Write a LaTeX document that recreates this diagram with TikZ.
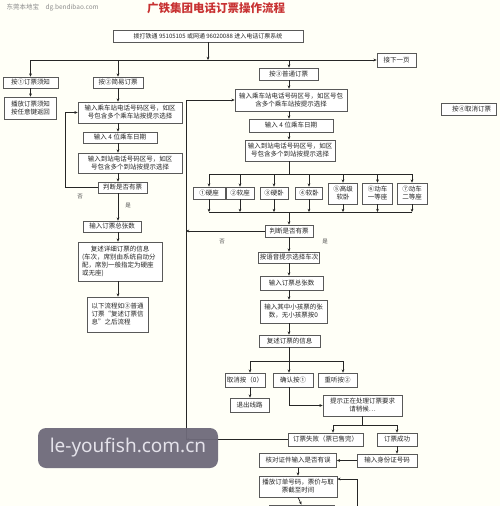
\documentclass[tikz,border=0pt]{standalone}
\usepackage{fontspec}
\newfontfamily\cjk{Noto Sans CJK SC}
\newfontfamily\wmfont{Noto Sans}
\usetikzlibrary{arrows.meta}
\begin{document}
\begin{tikzpicture}[x=1pt,y=-1pt,
 bx/.style={draw=black!65, fill=white, line width=0.7pt, inner sep=1pt, align=center,
   font=\cjk\fontsize{6.5}{8}\selectfont, text=black!85},
 sz/.style 2 args={minimum width=#1pt, minimum height=#2pt},
 ln/.style={draw=black!85, line width=0.7pt},
 arr/.style={ln, -{Stealth[length=3.2pt,width=2.8pt]}},
 lbl/.style={font=\cjk\fontsize{5.5}{6}\selectfont, text=black!70}]
\useasboundingbox (0,0) rectangle (500,506);
\fill[white!97!yellow] (0,0) rectangle (500,506);
\clip (0,0) rectangle (500,506);

% header
\node[font=\cjk\fontsize{6.5}{7}\selectfont, text=black!45, anchor=west] (src) at (3,8) {东莞本地宝\quad dg.bendibao.com};
\node[font=\cjk\bfseries\fontsize{11.5}{12}\selectfont, text={rgb,255:red,200;green,50;blue,50}] (title) at (216,8) {广铁集团电话订票操作流程};

% coordinates
\coordinate (c2) at (118,0);
\coordinate (c3) at (289,0);
\coordinate (L2) at (65,0);
\coordinate (L3) at (186,0);
\coordinate (sbus) at (0,174);
\coordinate (mbus) at (0,212);
\coordinate (bbus) at (0,361);
\coordinate (pbus) at (0,425);
\coordinate (xa) at (250,0);
\coordinate (xc) at (343,0);
\coordinate (xf) at (333,0);
\coordinate (xs) at (397,0);
\coordinate (rin) at (357,520);

% top
\node[bx, sz={190}{12}, font=\cjk\fontsize{6}{7}\selectfont] (n0) at (208,36) {拨打铁通 95105105 或网通 96020088 进入电话订票系统};
\node[bx, sz={39}{14}] (n4) at (396.5,60) {接下一页};
\node[bx, sz={55}{12}] (n5) at (468.5,109) {\hspace*{6pt}按④取消订票};

% column 1
\node[bx, sz={55}{11}] (n1a) at (30.5,82.5) {按①订票须知};
\node[bx, sz={52}{22}] (n1b) at (30.5,108) {播放订票须知\\按任意键返回};

% column 2
\node[bx, sz={50}{11}] (n2a) at (118,82.5) {按②简易订票};
\node[bx, sz={104}{21}] (n2b) at (130,112.5) {输入乘车站电话号码区号，如区\\号包含多个乘车站按提示选择};
\node[bx, sz={74}{11}] (n2c) at (120,137.5) {输入 4 位乘车日期};
\node[bx, sz={104}{20}] (n2d) at (130,163) {输入到站电话号码区号，如区\\号包含多个到站按提示选择};
\node[bx, sz={49}{11}] (n2e) at (122.5,187.5) {判断是否有票};
\node[bx, sz={58}{11}] (n2f) at (112,226.5) {输入订票总张数};
\node[bx, sz={84}{39}, align=left] (n2g) at (120,261.5) {\makebox[76pt][c]{复述详细订票的信息}\\(车次，席别由系统自动分\\配，席别一般指定为硬座\\或无座)};
\node[bx, sz={61}{35}, align=left] (n2h) at (117.5,314.5) {以下流程如③普通\\订票“复述订票信\\息”之后流程};
\node[lbl] (no2) at (80,197) {否};
\node[lbl] (yes2) at (128,206) {是};

% column 3
\node[bx, sz={59}{12}] (n3a) at (288.5,74) {按③普通订票};
\node[bx, sz={112}{22}] (n3b) at (291,100) {输入乘车站电话号码区号，如区号包\\含多个乘车站按提示选择};
\node[bx, sz={84}{13}] (n3c) at (291,125.5) {输入 4 位乘车日期};
\node[bx, sz={90}{21}] (n3d) at (290,150.5) {输入到站电话号码区号，如区\\号包含多个到站按提示选择};
\node[bx, sz={32}{12}] (s1) at (209,193) {①硬座};
\node[bx, sz={28}{12}] (s2) at (240,193) {②软座};
\node[bx, sz={28}{12}] (s3) at (274,193) {③硬卧};
\node[bx, sz={27}{12}] (s4) at (309,193) {④软卧};
\node[bx, sz={29}{21}] (s5) at (343,193.5) {⑤高级\\软卧};
\node[bx, sz={30}{21}] (s6) at (377.5,193.5) {⑥动车\\一等座};
\node[bx, sz={30}{21}] (s7) at (412,193.5) {⑦动车\\二等座};
\node[bx, sz={48}{12}] (n3e) at (289,231) {判断是否有票};
\node[lbl] (no3) at (222,242) {否};
\node[lbl] (yes3) at (325,242) {是};
\node[bx, sz={58}{11}] (n3f) at (289,257.5) {按语音提示选择车次};
\node[bx, sz={63}{14}] (n3g) at (291.5,283) {输入订票总张数};
\node[bx, sz={67}{23}] (n3h) at (293.5,311.5) {输入其中小孩票的张\\数，无小孩票按0};
\node[bx, sz={61}{12}] (n3i) at (289.5,341) {复述订票的信息};
\node[bx, sz={40}{14}] (n3j) at (245,380) {取消按（0）};
\node[bx, sz={40}{14}] (n3k) at (293,380) {确认按①};
\node[bx, sz={39}{14}] (n3l) at (337.5,380) {重听按②};
\node[bx, sz={39}{14}] (n3m) at (249.5,405) {退出线路};
\node[bx, sz={79}{21}] (n3n) at (362.5,405.5) {提示正在处理订票要求\\请稍候…};
\node[bx, sz={75}{13}] (n3o) at (325.5,439.5) {订票失败（票已售完）};
\node[bx, sz={40}{13}] (n3p) at (397,439.5) {订票成功};
\node[bx, sz={60}{13}] (n3q) at (387,460.5) {输入身份证号码};
\node[bx, sz={77}{14}] (n3r) at (298,460.5) {核对证件输入是否有误};
\node[bx, sz={78}{21}] (n3s) at (298,486.5) {播放订单号码，票价与取\\票截至时间};
\node[bx, sz={65}{15}] (n3t) at (301.5,512.5) {};

% top connectors
\draw[arr] (n0.south) -- (n0.south |- n4.west);
\draw[arr] (n1a.north |- n4.west) -- (n4.west);
\draw[arr] (n1a.north |- n4.west) -- (n1a.north);
\draw[arr] (c2 |- n4.west) -- (c2 |- n2a.north);
\draw[arr] (c3 |- n4.west) -- (c3 |- n3a.north);

% column 1
\draw[arr] (n1a.south) -- (n1a.south |- n1b.north);

% column 2
\foreach \a/\b in {n2a/n2b,n2b/n2c,n2c/n2d,n2d/n2e,n2e/n2f,n2f/n2g,n2g/n2h}
  \draw[arr] (c2 |- \a.south) -- (c2 |- \b.north);
\draw[arr] (n2e.west) -- (n2e.west -| L2) |- (n2b.west);

% column 3
\foreach \a/\b in {n3a/n3b,n3b/n3c,n3c/n3d}
  \draw[arr] (c3 |- \a.south) -- (c3 |- \b.north);
\draw[ln] (c3 |- n3d.south) -- (c3 |- sbus);
\draw[ln] (s1 |- sbus) -- (s7 |- sbus);
\draw[ln] (s1 |- mbus) -- (s7 |- mbus);
\foreach \s in {s1,s2,s3,s4,s5,s6,s7}{
  \draw[arr] (\s |- sbus) -- (\s.north);
  \draw[arr] (\s.south) -- (\s |- mbus);
}
\draw[arr] (c3 |- mbus) -- (c3 |- n3e.north);
\draw[arr] (n3e.west) -- (n3e.west -| L3);
\foreach \a/\b in {n3e/n3f,n3f/n3g,n3g/n3h,n3h/n3i}
  \draw[arr] (c3 |- \a.south) -- (c3 |- \b.north);
\draw[ln] (c3 |- n3i.south) -- (c3 |- bbus);
\draw[ln] (xa |- bbus) -- (xc |- bbus);
\draw[arr] (xa |- bbus) -- (xa |- n3j.north);
\draw[arr] (c3 |- bbus) -- (c3 |- n3k.north);
\draw[arr] (xc |- bbus) -- (xc |- n3l.north);
\draw[arr] (xa |- n3j.south) -- (xa |- n3m.north);
\draw[arr] (c3 |- n3k.south) |- (n3n.west);
\draw[ln] (n3n.south) -- (n3n.south |- pbus);
\draw[ln] (xf |- pbus) -- (xs |- pbus);
\draw[arr] (xf |- pbus) -- (xf |- n3o.north);
\draw[arr] (xs |- pbus) -- (xs |- n3p.north);
\draw[arr] (n3o.west) -- (n3o.west -| L3);
\draw[arr] (L3 |- n3o.west) -- (L3 |- n3b.west) -- (n3b.west);
\draw[arr] (xs |- n3p.south) -- (xs |- n3q.north);
\draw[arr] (n3q.west) -- (n3r.east);
\draw[arr] (n3r.south) -- (n3s.north);
\draw[arr] (rin) |- ([yshift=7.5pt]n3s.east);
\draw[arr] (n3s.south) -- (n3t.north);

% overlay watermark
\node[fill={rgb,255:red,110;green,106;blue,122}, fill opacity=0.95, text opacity=1, rounded corners=8pt,
  minimum width=180pt, minimum height=40pt, inner sep=0pt,
  text={rgb,255:red,228;green,226;blue,234}, font=\wmfont\fontsize{19}{20}\selectfont] (wm) at (128,448) {le-youfish.com.cn};
\end{tikzpicture}
\end{document}
